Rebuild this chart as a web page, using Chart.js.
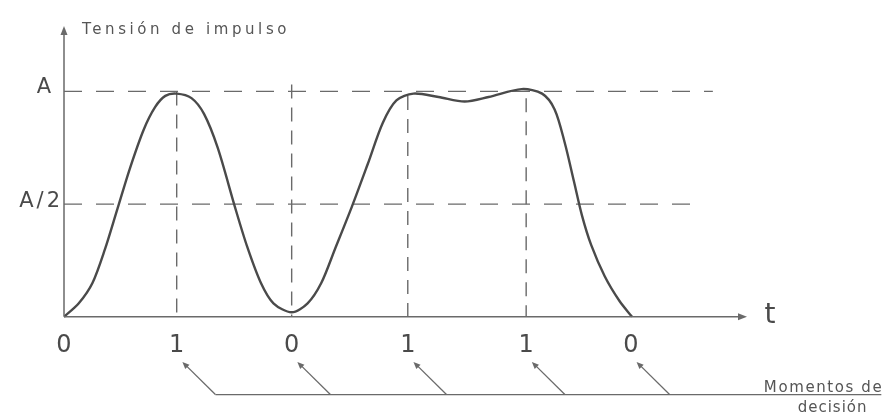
<!DOCTYPE html>
<html lang="es">
  <head>
    <meta charset="utf-8" />
    <title>Tensión de impulso</title>
    <style>
      * {
        margin: 0;
        padding: 0;
      }
      body {
        background: #fff;
      }
    </style>
  </head>
  <body>
    <canvas id="myChart" width="891" height="416"></canvas>

    <script src="https://cdn.jsdelivr.net/npm/chart.js"></script>

    <script>
      // pulse shape: time in bit periods, level as a fraction of A
      const curveTime = [0, 0.13, 0.25, 0.36, 0.47, 0.58, 0.7, 0.8, 0.89, 0.99, 1.12, 1.23, 1.35, 1.5, 1.61, 1.73, 1.84, 2.0, 2.14, 2.26, 2.38, 2.53, 2.67, 2.8, 2.92, 3.07, 3.29, 3.52, 3.73, 4.02, 4.2, 4.31, 4.4, 4.48, 4.55, 4.63, 4.75, 4.88, 4.99];
      const curveLevel = [0, 0.06, 0.15, 0.3, 0.48, 0.66, 0.83, 0.93, 0.98, 0.99, 0.97, 0.9, 0.75, 0.49, 0.31, 0.15, 0.06, 0.02, 0.06, 0.15, 0.3, 0.49, 0.68, 0.86, 0.96, 0.99, 0.975, 0.955, 0.975, 1.01, 0.99, 0.92, 0.77, 0.6, 0.45, 0.32, 0.18, 0.07, 0];

      // decision moments and the bit sent at each one
      const bitTimes = [0, 0.99, 2.0, 3.02, 4.06, 4.98];
      const bitLabels = ["0", "1", "0", "1", "1", "0"];

      // reference levels
      const levelValues = [1, 0.5];
      const levelLabels = ["A", "A/2"];
      const levelEnds = [5.7, 5.55];

      // tops of the vertical guides at the inner decision moments
      const guideTops = [1.0, 1.03, 0.98, 0.97];

      const ink = "#4a4a4a";
      const faint = "#6a6a6a";

      const levelSets = levelValues.map((v, i) => ({
        data: [
          { x: 0, y: v },
          { x: levelEnds[i], y: v },
        ],
        borderColor: faint,
        borderWidth: 1.4,
        borderDash: [18, 14],
        pointRadius: 0,
        tension: 0,
      }));

      const guideSets = guideTops.map((top, i) => ({
        data: [
          { x: bitTimes[i + 1], y: top },
          { x: bitTimes[i + 1], y: 0 },
        ],
        borderColor: faint,
        borderWidth: 1.4,
        borderDash: [14, 9],
        pointRadius: 0,
        tension: 0,
      }));

      function arrowHead(ctx, fx, fy, tx, ty, len, half) {
        const a = Math.atan2(ty - fy, tx - fx);
        const bx = tx - len * Math.cos(a);
        const by = ty - len * Math.sin(a);
        ctx.beginPath();
        ctx.moveTo(tx, ty);
        ctx.lineTo(bx + half * Math.sin(a), by - half * Math.cos(a));
        ctx.lineTo(bx - half * Math.sin(a), by + half * Math.cos(a));
        ctx.closePath();
        ctx.fill();
      }

      function spacedText(ctx, text, x, y, spacing) {
        ctx.letterSpacing = spacing + "px";
        ctx.fillText(text, x, y);
        ctx.letterSpacing = "0px";
      }

      // axes, labels and the "decision moments" callout
      const diagram = {
        id: "diagram",
        afterDraw(chart) {
          const { ctx, scales } = chart;
          const px = (t) => scales.x.getPixelForValue(t);
          const py = (v) => scales.y.getPixelForValue(v);
          const x0 = px(0);
          const y0 = py(0);
          const xEnd = scales.x.right;
          const yTop = scales.y.top;

          ctx.save();
          ctx.strokeStyle = faint;
          ctx.fillStyle = faint;
          ctx.lineWidth = 1.5;

          ctx.beginPath();
          ctx.moveTo(x0, y0);
          ctx.lineTo(x0, yTop + 4);
          ctx.moveTo(x0, y0);
          ctx.lineTo(xEnd - 4, y0);
          ctx.stroke();
          arrowHead(ctx, x0, y0, x0, yTop, 9, 3.5);
          arrowHead(ctx, x0, y0, xEnd, y0, 9, 3.5);

          ctx.fillStyle = "#555";
          ctx.textBaseline = "alphabetic";

          ctx.font = '15px "DejaVu Sans"';
          ctx.textAlign = "left";
          spacedText(ctx, "Tensión de impulso", x0 + 18, yTop + 8, 3.6);

          ctx.fillStyle = ink;
          ctx.font = '21px "DejaVu Sans"';
          ctx.textAlign = "center";
          ctx.fillText(levelLabels[0], x0 - 20, py(levelValues[0]) + 2);
          ctx.textAlign = "right";
          spacedText(ctx, levelLabels[1], x0 - 1, py(levelValues[1]) + 3, 3);

          ctx.font = '28px "DejaVu Sans"';
          ctx.textAlign = "center";
          ctx.fillText("t", xEnd + 23, y0 + 6);

          ctx.font = '24px "DejaVu Sans"';
          ctx.textBaseline = "middle";
          bitTimes.forEach((t, i) => {
            ctx.fillText(bitLabels[i], px(t), py(-0.13));
          });

          // bracket line and arrows to each decision moment
          ctx.strokeStyle = faint;
          ctx.fillStyle = faint;
          ctx.lineWidth = 1.3;
          const lineY = py(-0.345);
          ctx.beginPath();
          ctx.moveTo(px(1.33), lineY);
          ctx.lineTo(px(7.18), lineY);
          ctx.stroke();
          bitTimes.slice(1).forEach((t) => {
            const sx = px(t + 0.34);
            const tx = px(t + 0.05);
            const ty = py(-0.2);
            ctx.beginPath();
            ctx.moveTo(sx, lineY);
            ctx.lineTo(tx + 3, ty + 3);
            ctx.stroke();
            arrowHead(ctx, sx, lineY, tx, ty, 7, 3);
          });

          ctx.fillStyle = "#555";
          ctx.font = '15px "DejaVu Sans"';
          ctx.textBaseline = "alphabetic";
          ctx.textAlign = "right";
          spacedText(ctx, "Momentos de", px(7.18) + 2, lineY - 3, 1.6);
          spacedText(ctx, "decisión", px(7.05) + 1, lineY + 17, 1);
          ctx.restore();
        },
      };

      const data = {
        datasets: [
          {
            data: curveTime.map((t, i) => ({ x: t, y: curveLevel[i] })),
            borderColor: ink,
            borderWidth: 2.4,
            tension: 0.3,
            pointRadius: 0,
          },
          ...levelSets,
          ...guideSets,
        ],
      };

      const config = {
        type: "line",
        data: data,
        options: {
          responsive: false,
          devicePixelRatio: 1,
          animation: false,
          events: [],
          layout: {
            padding: { left: 64, right: 144, top: 26, bottom: 0 },
          },
          scales: {
            x: { type: "linear", min: 0, max: 6, display: false },
            y: { type: "linear", min: -0.44, max: 1.29, display: false },
          },
          plugins: {
            legend: { display: false },
            tooltip: { enabled: false },
          },
        },
        plugins: [diagram],
      };

      const myChart = new Chart(document.getElementById("myChart"), config);
    </script>
  </body>
</html>
